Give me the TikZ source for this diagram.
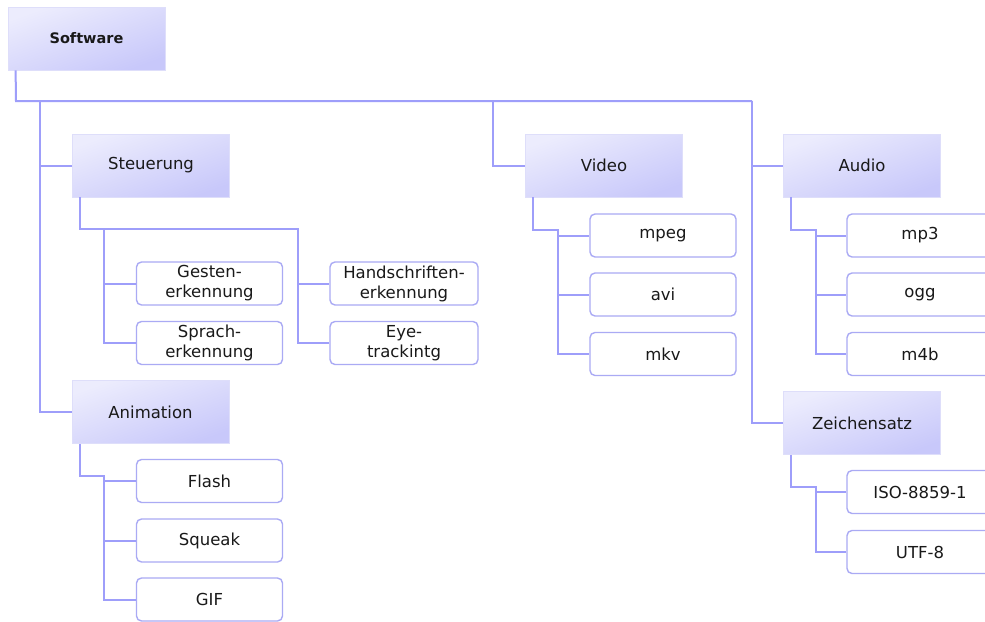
\documentclass[tikz,border=0pt]{standalone}
\usepackage{fontspec}
\setmainfont{DejaVu Sans}
\definecolor{catlight}{RGB}{236,236,253}
\definecolor{catdark}{RGB}{200,200,250}
\definecolor{catedge}{RGB}{222,222,250}
\definecolor{linkcol}{RGB}{158,158,250}
\definecolor{leafedge}{RGB}{170,170,244}
\definecolor{txt}{RGB}{25,25,25}
\tikzset{
  catbox/.style={rectangle, draw=catedge, line width=0.8pt,
    top color=catlight, bottom color=catdark, shading angle=20,
    minimum width=157pt, minimum height=63pt, inner sep=0pt,
    text=txt, font=\fontsize{16.5}{20}\selectfont},
  leaf/.style={rectangle, rounded corners=5pt, draw=leafedge, line width=1.4pt,
    fill=white, minimum width=146pt, minimum height=43pt, inner sep=0pt,
    align=center, text=txt, font=\fontsize{16.5}{20}\selectfont},
  link/.style={draw=linkcol, line width=2pt}
}
\begin{document}
\begin{tikzpicture}[x=1pt, y=-1pt]
\clip (0,0) rectangle (985,621);
\fill[white] (0,0) rectangle (985,621);

% category boxes
\node[catbox, font=\fontsize{14.5}{17}\selectfont\bfseries] (sw) at (86.5,38.5) {Software};
\node[catbox] (st) at (151,165.5) {Steuerung};
\node[catbox] (an) at (150.5,412) {Animation};
\node[catbox] (vi) at (604,165.5) {Video};
\node[catbox] (au) at (862,165.5) {Audio};
\node[catbox] (zs) at (862,423) {Zeichensatz};

% leaves: Steuerung
\node[leaf] (ge) at (209.5,283.5) {Gesten-\\erkennung};
\node[leaf] (sp) at (209.5,343) {Sprach-\\erkennung};
\node[leaf, minimum width=148pt] (hs) at (404,283.5) {Handschriften-\\erkennung};
\node[leaf, minimum width=148pt] (ey) at (404,343) {Eye-\\trackintg};
% leaves: Animation
\node[leaf] (fl) at (209.5,481) {Flash};
\node[leaf] (sq) at (209.5,540.5) {Squeak};
\node[leaf] (gi) at (209.5,599.5) {GIF};
% leaves: Video
\node[leaf] (mp) at (663,235.5) {mpeg};
\node[leaf] (av) at (663,294.5) {avi};
\node[leaf] (mk) at (663,354) {mkv};
% leaves: Audio
\node[leaf] (m3) at (920,235.5) {mp3};
\node[leaf] (og) at (920,294.5) {ogg};
\node[leaf] (m4) at (920,354) {m4b};
% leaves: Zeichensatz
\node[leaf] (is) at (920,492) {ISO-8859-1};
\node[leaf] (ut) at (920,552) {UTF-8};

% junction points
\coordinate (j0) at (16,101);
\coordinate (tL) at (40,101);
\coordinate (tV) at (493,101);
\coordinate (tA) at (752,101);
\coordinate (s2) at (104,229);
\coordinate (s3) at (298,229);
\coordinate (a2) at (104,476);
\coordinate (v2) at (558,230);
\coordinate (u2) at (816,230);
\coordinate (z2) at (816,487);

% main trunk
\draw[link] ([xshift=8pt]sw.south west) -- (j0) -- (tA);
\draw[link] (tL) |- (an.west);
\draw[link] (st.west -| tL) -- (st.west);
\draw[link] (tV) |- (vi.west);
\draw[link] (tA) |- (zs.west);
\draw[link] (au.west -| tA) -- (au.west);

% Steuerung subtree
\draw[link] ([xshift=8pt]st.south west) |- (s3) |- (ey.west);
\draw[link] (hs.west -| s3) -- (hs.west);
\draw[link] (s2) |- (sp.west);
\draw[link] (ge.west -| s2) -- (ge.west);

% Animation subtree
\draw[link] ([xshift=8pt]an.south west) |- (a2) |- (gi.west);
\draw[link] (fl.west -| a2) -- (fl.west);
\draw[link] (sq.west -| a2) -- (sq.west);

% Video subtree
\draw[link] ([xshift=8pt]vi.south west) |- (v2) |- (mk.west);
\draw[link] (mp.west -| v2) -- (mp.west);
\draw[link] (av.west -| v2) -- (av.west);

% Audio subtree
\draw[link] ([xshift=8pt]au.south west) |- (u2) |- (m4.west);
\draw[link] (m3.west -| u2) -- (m3.west);
\draw[link] (og.west -| u2) -- (og.west);

% Zeichensatz subtree
\draw[link] ([xshift=8pt]zs.south west) |- (z2) |- (ut.west);
\draw[link] (is.west -| z2) -- (is.west);
\end{tikzpicture}
\end{document}
